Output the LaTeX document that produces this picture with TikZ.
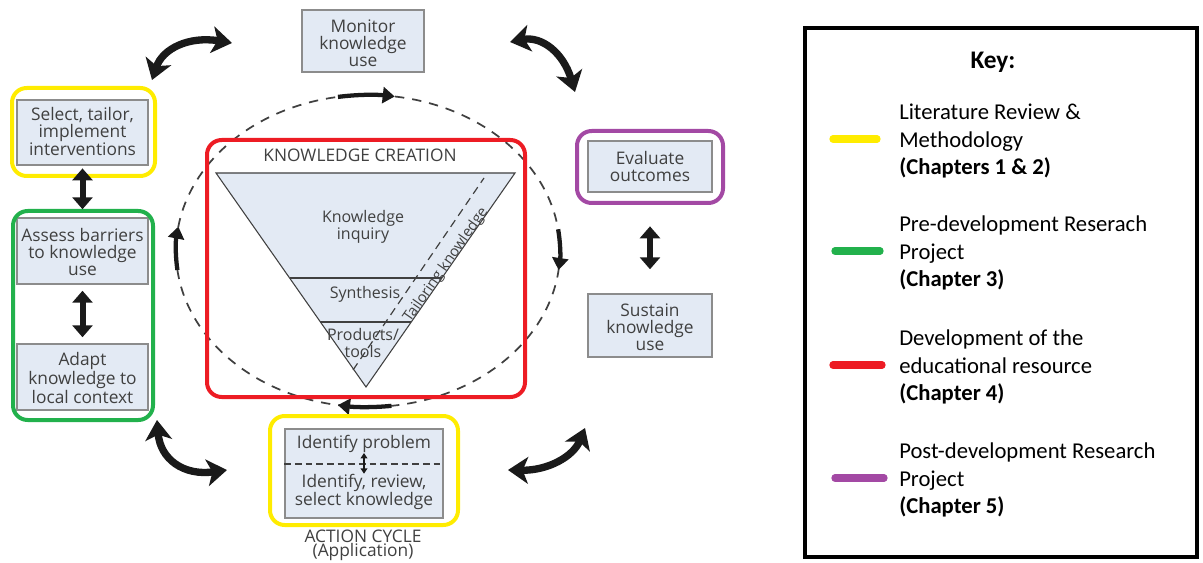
\documentclass[tikz,border=0pt]{standalone}
\usepackage{fontspec}
\setmainfont{Open Sans}
\newfontfamily\keyfont{Carlito}
\usetikzlibrary{arrows.meta,calc,fit}
\definecolor{boxfill}{HTML}{E3EAF4}
\definecolor{boxline}{HTML}{8C8C8C}
\definecolor{ink}{HTML}{404040}
\definecolor{arrowink}{HTML}{1A1A1A}
\definecolor{hlyellow}{RGB}{255,236,0}
\definecolor{hlgreen}{RGB}{34,177,76}
\definecolor{hlred}{RGB}{237,28,36}
\definecolor{hlpurple}{RGB}{163,73,164}
\tikzset{
  stagebox/.style={draw=boxline, line width=1.1pt, fill=boxfill, inner sep=0pt},
  plaintext/.style={text=ink, align=center, font=\fontsize{13}{12.9}\selectfont, inner sep=0pt},
  tritext/.style={text=ink, align=center, font=\fontsize{12}{12.5}\selectfont, inner sep=0pt},
  hlframe/.style={line width=3pt, rounded corners=11pt, inner sep=0pt},
  bigarc/.style={draw=arrowink, line width=5.5pt,
    {Stealth[length=15pt,width=20pt,inset=4pt]}-{Stealth[length=15pt,width=20pt,inset=4pt]}},
  vdouble/.style={draw=arrowink, line width=4.5pt,
    {Triangle[length=9pt,width=15pt]}-{Triangle[length=9pt,width=15pt]}},
  cyclearrow/.style={draw=arrowink, line width=3.2pt, -{Triangle[length=9pt,width=12pt]}},
  keytext/.style={anchor=west, align=left, inner sep=0pt,
    font=\keyfont\fontsize{17}{20.6}\selectfont},
  keyswatch/.style={line width=5.5pt, line cap=round},
}
\begin{document}
\begin{tikzpicture}[x=0.75pt,y=-0.75pt]
\useasboundingbox (0,0) rectangle (1203,563);

% dashed cycle around knowledge creation
\coordinate (ctr) at (368,251);
\draw[ink, line width=1.3pt, dash pattern=on 7pt off 6pt] (ctr) ellipse [x radius=192, y radius=156];
\draw[cyclearrow] ($(ctr)+(261:192 and 156)$) arc[start angle=261, end angle=278, x radius=192, y radius=156];
\draw[cyclearrow] ($(ctr)+(-8:192 and 156)$) arc[start angle=-8, end angle=7, x radius=192, y radius=156];
\draw[cyclearrow] ($(ctr)+(83:192 and 156)$) arc[start angle=83, end angle=99, x radius=192, y radius=156];
\draw[cyclearrow] ($(ctr)+(173:192 and 156)$) arc[start angle=173, end angle=189, x radius=192, y radius=156];

% action cycle stages
\node[stagebox, fit={(302,10)(424,72)}] (monitor) {};
\node[plaintext] at ($(monitor.center)+(0,2)$) {Monitor\\knowledge\\use};
\node[stagebox, fit={(17,100)(148,165)}] (select) {};
\node[plaintext] at ($(select.center)+(0,-1)$) {Select, tailor,\\implement\\interventions};
\node[stagebox, fit={(17,218)(148,284)}] (assess) {};
\node[plaintext] at ($(assess.center)+(0,1)$) {Assess barriers\\to knowledge\\use};
\node[stagebox, fit={(17,344)(148,410)}] (adapt) {};
\node[plaintext] at ($(adapt.center)+(0,1)$) {Adapt\\knowledge to\\local context};
\node[stagebox, fit={(588,141)(712,192)}] (evaluate) {};
\node[plaintext] at ($(evaluate.center)+(0,0)$) {Evaluate\\outcomes};
\node[stagebox, fit={(588,294)(712,357)}] (sustain) {};
\node[plaintext] at ($(sustain.center)+(0,2)$) {Sustain\\knowledge\\use};
\node[stagebox, fit={(285,429)(443,518)}] (identify) {};
\node[plaintext] (idprob) at (364,444) {Identify problem};
\node[plaintext] (idrev) at (364,492) {Identify, review,\\select knowledge};
\draw[ink, line width=0.9pt, dash pattern=on 5pt off 3pt] (identify.west |- 0,464) -- (identify.east |- 0,464);
\draw[arrowink, line width=1.2pt, {Triangle[length=4pt,width=5pt]}-{Triangle[length=4pt,width=5pt]}] (idprob.south) -- (idrev.north);
\node[plaintext] (acttitle) at (363,536) {ACTION CYCLE};
\node[plaintext] (actsub) at (363,552) {(Application)};

% knowledge creation funnel
\node[plaintext] (kctitle) at (360,155) {KNOWLEDGE CREATION};
\coordinate (tl) at (216,173);
\coordinate (tr) at (515,173);
\coordinate (bt) at (366,387);
\draw[fill=boxfill, draw=ink, line width=0.8pt] (tl) -- (tr) -- (bt) -- cycle;
\draw[ink, line width=0.8pt] ($(tl)!0.4907!(bt)$) -- ($(tr)!0.4907!(bt)$);
\draw[ink, line width=0.8pt] ($(tl)!0.6963!(bt)$) -- ($(tr)!0.6963!(bt)$);
\node[tritext] (inquiry) at (363,227) {Knowledge\\inquiry};
\node[tritext] (synth) at (365,294) {Synthesis};
\node[tritext] (products) at (363,343) {Products/\\tools};
\coordinate (tailtop) at (484,178);
\coordinate (tailbot) at (353,370);
\draw[ink, line width=0.9pt, dash pattern=on 6pt off 4pt] (tailbot) -- (tailtop);
\node[tritext, font=\fontsize{11}{12}\selectfont, rotate=55] (tailor) at (446,265) {Tailoring knowledge};

% highlight frames
\node[hlframe, draw=hlyellow, fit={(12,88)(155,176)}] (yframeA) {};
\node[hlframe, draw=hlgreen, fit={(13,211)(153,420)}] (gframe) {};
\node[hlframe, draw=hlred, fit={(207,140)(525,397)}] (rframe) {};
\node[hlframe, draw=hlpurple, fit={(577,131)(723,203)}] (pframe) {};
\node[hlframe, draw=hlyellow, fit={(270,416)(458,525)}] (yframeB) {};

% links between stages
\draw[vdouble, shorten <=2pt, shorten >=6pt] (select.south) -- (assess.north);
\draw[vdouble, shorten <=4.5pt, shorten >=4.5pt] (assess.south) -- (adapt.north);
\draw[vdouble, shorten <=16pt, shorten >=18pt] (pframe.south) -- (sustain.north);

% curved double arrows of the action cycle
\coordinate (a1s) at (152,80);   \coordinate (a1e) at (232,43);
\coordinate (a2s) at (510,42);   \coordinate (a2e) at (575,92);
\coordinate (a3s) at (157,420);  \coordinate (a3e) at (227,470);
\coordinate (a4s) at (508,470);  \coordinate (a4e) at (585,428);
\draw[bigarc] (a1s) .. controls (162.7,48.3) and (189.3,36) .. (a1e);
\draw[bigarc] (a2s) .. controls (541.7,36) and (563.3,52.7) .. (a2e);
\draw[bigarc] (a3s) .. controls (160.3,459.3) and (183.7,476) .. (a3e);
\draw[bigarc] (a4s) .. controls (547.7,470.7) and (573.3,456.7) .. (a4e);

% key
\node[draw=black, line width=2.5pt, inner sep=0pt, fit={(805,28)(1197,557)}] (key) {};
\node[font=\keyfont\bfseries\fontsize{19}{22}\selectfont, inner sep=0pt] (keytitle) at (993,62) {Key:};
\node[keytext] (k1) at (899,141) {Literature Review \&\\Methodology\\\textbf{(Chapters 1 \& 2)}};
\node[keytext] (k2) at (899,253) {Pre-development Reserach\\Project\\\textbf{(Chapter 3)}};
\node[keytext] (k3) at (899,367) {Development of the\\educational resource\\\textbf{(Chapter 4)}};
\node[keytext] (k4) at (899,480) {Post-development Research\\Project\\\textbf{(Chapter 5)}};
\draw[keyswatch, hlyellow] (833,139) -- (877,139);
\draw[keyswatch, hlgreen] (835,251) -- (880,251);
\draw[keyswatch, hlred] (833,365) -- (882,365);
\draw[keyswatch, hlpurple] (835,478) -- (884,478);
\end{tikzpicture}
\end{document}
